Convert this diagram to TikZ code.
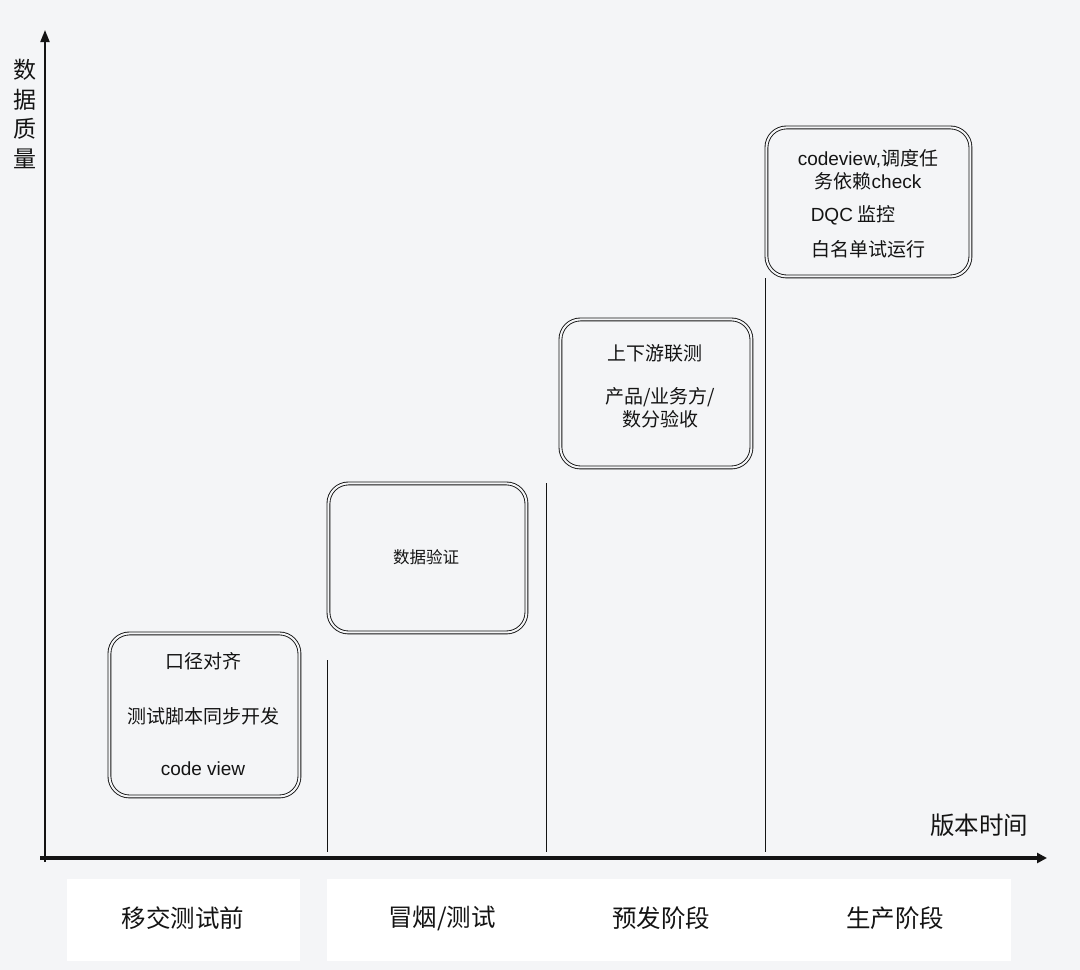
\documentclass[tikz,border=0pt]{standalone}
\usepackage{fontspec}
\setmainfont{Noto Sans CJK SC}
\newfontfamily\latf{Liberation Sans}
\usetikzlibrary{arrows.meta}
\definecolor{bg}{RGB}{244,245,247}
\definecolor{ink}{RGB}{20,20,20}
\begin{document}
\begin{tikzpicture}[x=1pt,y=-1pt,
  stagebox/.style={draw=ink,double=bg,double distance=2pt,line width=0.9pt,rounded corners=20pt,inner sep=0pt},
  boxtext/.style={font=\fontsize{19}{23}\selectfont,text=ink,align=center,inner sep=0pt},
  bigtext/.style={font=\fontsize{24.5}{28}\selectfont,text=ink,inner sep=0pt},
  divider/.style={draw=ink,line width=0.9pt},
  band/.style={fill=white,draw=none}]
\fill[bg] (0,0) rectangle (1080,970);
\useasboundingbox (0,0) rectangle (1080,970);

% bottom bands
\node[band,minimum width=233pt,minimum height=82pt,anchor=north west] (bandA) at (67,879) {};
\node[band,minimum width=684pt,minimum height=82pt,anchor=north west] (bandB) at (327,879) {};
\node[bigtext] (lab1) at (183,918) {移交测试前};
\node[bigtext] (lab2) at (442,918) {冒烟/测试};
\node[bigtext] (lab3) at (661,918) {预发阶段};
\node[bigtext] (lab4) at (895,918) {生产阶段};

% axes
\coordinate (origin) at (45,858);
\coordinate (ytop) at (45,30);
\coordinate (xstart) at (40,858);
\coordinate (xend) at (1047,858);
\draw[ink,line width=2pt,-{Triangle[length=12pt,width=9pt]}] (45,862) -- (ytop);
\draw[ink,line width=4pt,-{Triangle[length=10pt,width=10pt]}] (xstart) -- (xend);
\node[bigtext,align=center,font=\fontsize{23}{29.5}\selectfont] (ylab) at (25,114) {数\\据\\质\\量};
\node[bigtext] (xlab) at (979,825) {版本时间};

% dividers
\coordinate (d1t) at (327,660); \coordinate (d1b) at (327,852);
\coordinate (d2t) at (546,483); \coordinate (d2b) at (546,852);
\coordinate (d3t) at (765,278); \coordinate (d3b) at (765,852);
\draw[divider] (d1t) -- (d1b);
\draw[divider] (d2t) -- (d2b);
\draw[divider] (d3t) -- (d3b);

% boxes
\node[stagebox,minimum width=190pt,minimum height=163pt,anchor=north west] (box1) at (109,633) {};
\node[stagebox,minimum width=198pt,minimum height=149pt,anchor=north west] (box2) at (328,483) {};
\node[stagebox,minimum width=191pt,minimum height=148pt,anchor=north west] (box3) at (560,319) {};
\node[stagebox,minimum width=204pt,minimum height=149pt,anchor=north west] (box4) at (766,127) {};

% box texts
\node[boxtext] (t11) at (203,661) {口径对齐};
\node[boxtext] (t12) at (203,716) {测试脚本同步开发};
\node[boxtext] (t13) at (203,769) {\latf code view};
\node[boxtext,font=\fontsize{16.5}{20}\selectfont] (t21) at (426,557) {数据验证};
\node[boxtext] (t31) at (655,353) {上下游联测};
\node[boxtext] (t32) at (660,408) {产品/业务方/\\数分验收};
\node[boxtext] (t41) at (868,170) {{\latf codeview,}调度任\\务依赖{\latf check}};
\node[boxtext] (t42) at (853,215) {{\latf DQC} 监控};
\node[boxtext] (t43) at (868,249) {白名单试运行};
\end{tikzpicture}
\end{document}
